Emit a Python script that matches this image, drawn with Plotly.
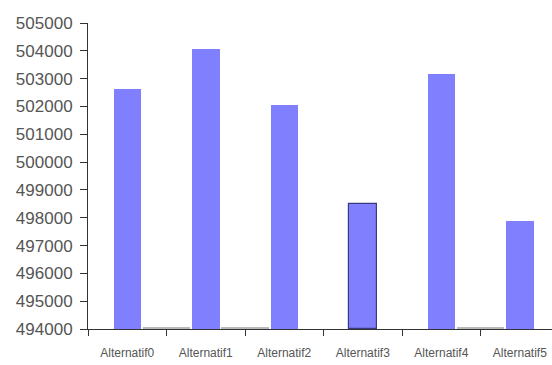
import plotly.graph_objects as go

# Scores per alternative
categories = ["Alternatif0", "Alternatif1", "Alternatif2", "Alternatif3", "Alternatif4", "Alternatif5"]
scores = [502620, 504070, 502070, 498510, 503150, 497870]

# Small residual series sitting on the floor between alternatives
gap_positions = [0.5, 1.5, 4.5]
gap_values = [494080, 494040, 494080]

y_ticks = list(range(494000, 505001, 1000))

BAR = "#8080FF"
AXIS = "#333333"
TEXT = "#555555"
FONT = "Liberation Sans, Arial, sans-serif"

fig = go.Figure()

fig.add_trace(go.Bar(
    x=categories,
    y=[v - 494000 for v in scores],
    base=494000,
    width=0.35,
    marker=dict(
        color=BAR,
        line=dict(color=["rgba(0,0,0,0)"] * 3 + ["#3a3a80"] + ["rgba(0,0,0,0)"] * 2,
                  width=[0, 0, 0, 1.2, 0, 0]),
    ),
    hoverinfo="x+y",
))

fig.add_trace(go.Bar(
    x=gap_positions,
    y=[v - 494000 for v in gap_values],
    base=494000,
    width=0.6,
    marker=dict(color="#b8b8b8", line=dict(width=0)),
    xaxis="x2",
))

fig.update_layout(
    width=552,
    height=365,
    margin=dict(l=88, r=0, t=23, b=36),
    paper_bgcolor="white",
    plot_bgcolor="white",
    showlegend=False,
    bargap=0,
    barmode="overlay",
    xaxis=dict(
        type="category",
        range=[-0.5, 5.41],
        tickson="boundaries",
        ticks="outside",
        ticklen=6,
        tickcolor=AXIS,
        showline=True,
        linecolor=AXIS,
        linewidth=1,
        showgrid=False,
        zeroline=False,
        ticklabelstandoff=13,
        tickfont=dict(family=FONT, size=12, color=TEXT),
    ),
    xaxis2=dict(
        overlaying="x",
        range=[-0.5, 5.41],
        visible=False,
    ),
    yaxis=dict(
        range=[494000, 505000],
        tickvals=y_ticks,
        ticktext=[str(v) for v in y_ticks],
        ticks="outside",
        ticklen=7,
        tickcolor=AXIS,
        showline=True,
        linecolor=AXIS,
        linewidth=1,
        showgrid=False,
        zeroline=False,
        ticklabelstandoff=4,
        tickfont=dict(family=FONT, size=17, color=TEXT),
    ),
)

fig.write_html("out.html")
